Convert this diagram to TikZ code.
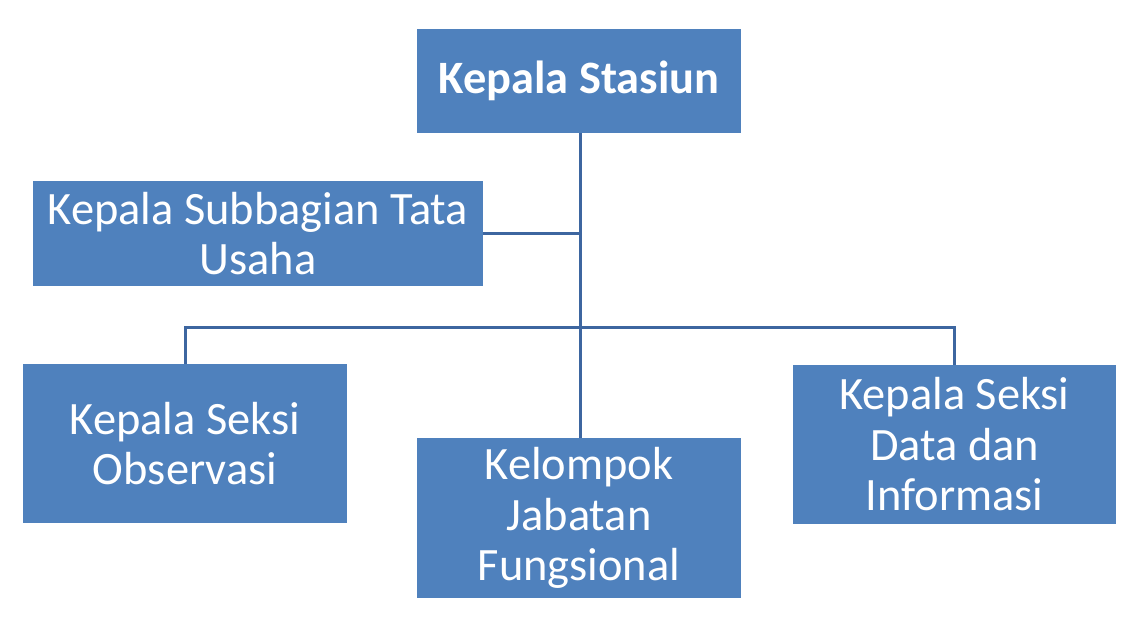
\documentclass[tikz,border=0pt]{standalone}
\usepackage{fontspec}
\setmainfont{Carlito}
\definecolor{boxblue}{HTML}{4F81BD}
\definecolor{lineblue}{HTML}{3D66A0}
\begin{document}
\begin{tikzpicture}[x=1pt,y=-1pt,
  orgbox/.style={fill=boxblue, draw=none, text=white, align=center, inner sep=0pt,
    font=\fontsize{46.4}{50.5}\selectfont},
  link/.style={draw=lineblue, line width=3pt}]
\useasboundingbox[fill=white] (0,0) rectangle (1148,621);
\node[orgbox, minimum width=324pt, minimum height=104pt, font=\fontsize{46.4}{50.5}\selectfont\bfseries] (ks) at (579,81) {Kepala Stasiun};
\node[orgbox, minimum width=450pt, minimum height=105pt] (tu) at (258,233.5) {Kepala Subbagian Tata\\Usaha};
\node[orgbox, minimum width=324pt, minimum height=159pt] (obs) at (185,443.5) {Kepala Seksi\\Observasi};
\node[orgbox, minimum width=324pt, minimum height=160pt] (jf) at (579,518) {Kelompok\\Jabatan\\Fungsional};
\node[orgbox, minimum width=323pt, minimum height=159pt] (di) at (954.5,444.5) {Kepala Seksi\\Data dan\\Informasi};
\coordinate (jt) at (580,233);
\coordinate (bj) at (580,327);
\draw[link] (ks.south -| bj) -- (jf.north -| bj);
\draw[link] (tu.east |- jt) -- (jt);
\draw[link] (obs.north) -- (obs.north |- bj) -- (di.north |- bj) -- (di.north);
\end{tikzpicture}
\end{document}
